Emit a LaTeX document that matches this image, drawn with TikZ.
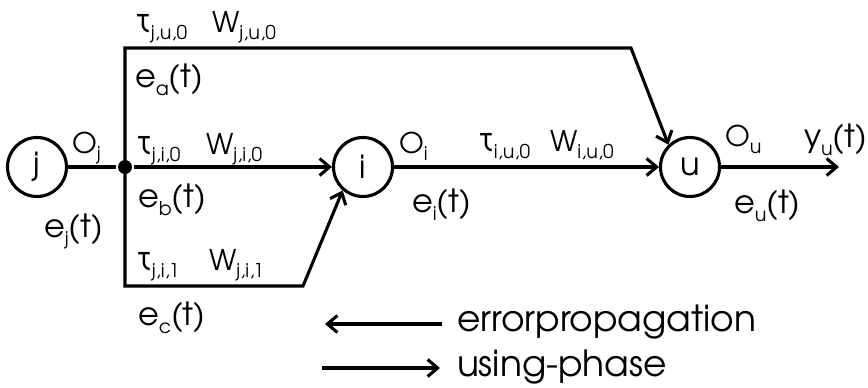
\documentclass[tikz,border=0pt]{standalone}
\usepackage{fontspec}
\setmainfont{TeX Gyre Adventor}
\usetikzlibrary{arrows.meta}

% font sizes (1pt = 1px in this picture)
\newcommand{\legsz}{\fontsize{36}{40}\selectfont}
\newcommand{\bigsz}{\fontsize{32}{36}\selectfont}
\newcommand{\midsz}{\fontsize{28.5}{32}\selectfont}
% lowered index text
\newcommand{\lowix}[1]{\raisebox{-0.27em}{\fontsize{19}{21}\selectfont #1}}
\newcommand{\tauix}[1]{{\fontsize{33}{35}\selectfont τ}\lowix{#1}}

\begin{document}
\begin{tikzpicture}[x=1pt,y=-1pt,
  line width=3.1pt,
  neuron/.style={circle,draw,minimum size=59pt,inner sep=0pt,font=\bigsz},
  lbl/.style={anchor=base west,inner sep=0pt,outer sep=0pt},
  big/.style={lbl,font=\bigsz},
  mid/.style={lbl,font=\midsz},
  leg/.style={lbl,font=\legsz},
  tip/.style={-{Straight Barb[length=10pt,width=17pt]}}]
\useasboundingbox (0,0) rectangle (868,388);

% neurons
\node[neuron] (j) at (37,167) {j};
\node[neuron] (i) at (363,167) {i};
\node[neuron] (u) at (690,167) {u};
\node[circle,fill,inner sep=0pt,minimum size=14pt] (fork) at (125,167) {};

% corner points of the delayed connections
\coordinate (ta) at (125,48);
\coordinate (tb) at (631,48);
\coordinate (ba) at (125,286);
\coordinate (bb) at (303,286);
\coordinate (out) at (839,167);

% connections
\draw (j) -- (fork);
\draw[tip] (fork) -- (i);
\draw[tip,line join=miter] (fork.center) -- (ta) -- (tb) -- (u.134);
\draw[tip,line join=miter] (fork.center) -- (ba) -- (bb) -- (i.229);
\draw[tip] (i) -- (u);
\draw[tip] (u) -- (out);

% labels of the connections
\node[mid] at (135,32) {\tauix{j,u,0}};
\node[mid] at (212,32) {W\lowix{j,u,0}};
\node[big] at (135,87) {e\lowix{a}(t)};

\node[mid] at (72,153) {O\lowix{j}};
\node[mid] at (136,154) {\tauix{j,i,0}};
\node[mid] at (206,154) {W\lowix{j,i,0}};
\node[big] at (138,207) {e\lowix{b}(t)};
\node[big] at (44,237) {e\lowix{j}(t)};

\node[mid] at (136,270) {\tauix{j,i,1}};
\node[mid] at (209,270) {W\lowix{j,i,1}};
\node[big] at (138,325) {e\lowix{c}(t)};

\node[mid] at (399,153) {O\lowix{i}};
\node[mid] at (478,151) {\tauix{i,u,0}};
\node[mid] at (550,151) {W\lowix{i,u,0}};
\node[big] at (412,212) {e\lowix{i}(t)};

\node[mid] at (725,146) {O\lowix{u}};
\node[big] at (804,147) {y\lowix{u}(t)};
\node[big] at (734,213) {e\lowix{u}(t)};

% legend
\coordinate (la) at (442,324);
\coordinate (lb) at (325,324);
\coordinate (ra) at (322,368);
\coordinate (rb) at (440,368);
\draw[tip] (la) -- (lb);
\draw[tip] (ra) -- (rb);
\node[leg] (ep) at (457,331) {errorpropagation};
\node[leg] (up) at (457,376) {using-phase};
\end{tikzpicture}
\end{document}
